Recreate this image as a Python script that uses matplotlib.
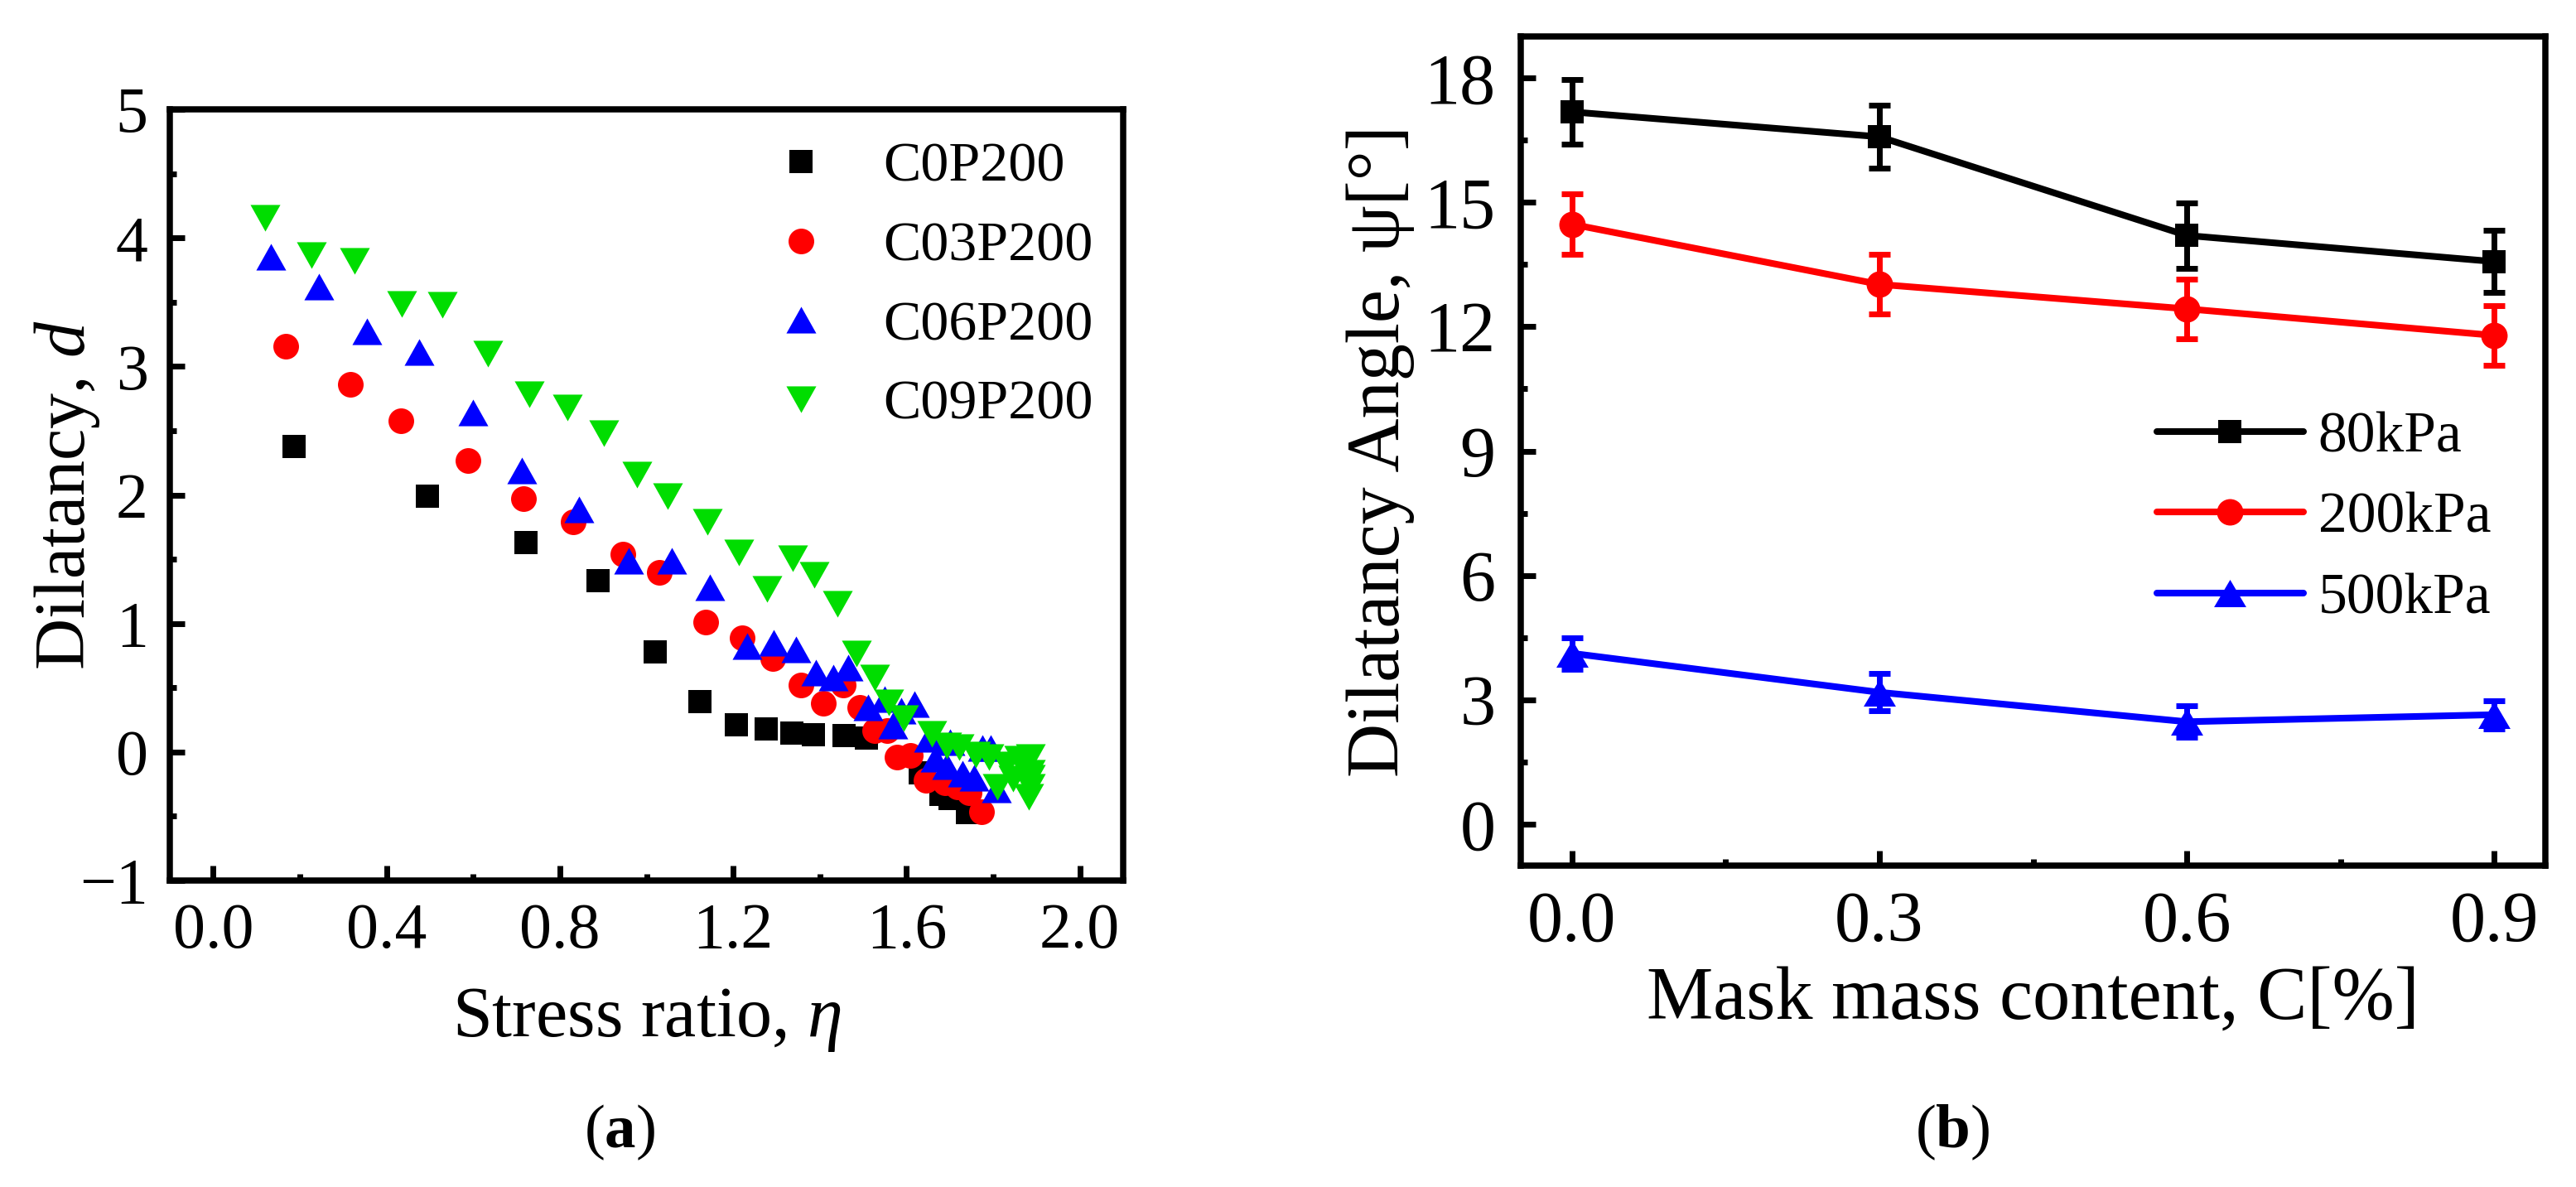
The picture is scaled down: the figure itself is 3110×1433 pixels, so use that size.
import matplotlib
matplotlib.use('Agg')
import matplotlib.pyplot as plt
from matplotlib.ticker import MultipleLocator, FormatStrFormatter

plt.rcParams['font.family'] = ['Liberation Serif', 'DejaVu Serif']
plt.rcParams['mathtext.fontset'] = 'custom'
plt.rcParams['mathtext.rm'] = 'Liberation Serif'
plt.rcParams['mathtext.it'] = 'Liberation Serif:italic'
plt.rcParams['mathtext.bf'] = 'Liberation Serif:bold'
plt.rcParams['lines.solid_capstyle'] = 'round'

# (a) dilatancy vs stress ratio
c0_eta = [0.187, 0.494, 0.722, 0.889, 1.021, 1.123, 1.208, 1.277, 1.335, 1.385,
          1.456, 1.507, 1.632, 1.680, 1.700, 1.740]
c0_d = [2.38, 1.99, 1.63, 1.33, 0.78, 0.39, 0.21, 0.18, 0.15, 0.135,
        0.125, 0.11, -0.16, -0.33, -0.36, -0.47]

c03_eta = [0.168, 0.316, 0.433, 0.588, 0.717, 0.831, 0.945, 1.030, 1.136, 1.221,
           1.292, 1.356, 1.409, 1.453, 1.493, 1.527, 1.556, 1.579, 1.609, 1.646,
           1.689, 1.718, 1.744, 1.773]
c03_d = [3.16, 2.86, 2.58, 2.27, 1.97, 1.79, 1.54, 1.40, 1.01, 0.89,
         0.725, 0.52, 0.376, 0.52, 0.345, 0.167, 0.167, -0.04, -0.03, -0.22,
         -0.24, -0.27, -0.315, -0.465]

c06_eta = [0.134, 0.245, 0.354, 0.475, 0.600, 0.712, 0.845, 0.959, 1.058, 1.147,
           1.232, 1.294, 1.345, 1.391, 1.431, 1.466, 1.511, 1.549, 1.568, 1.587,
           1.618, 1.650, 1.667, 1.692, 1.700, 1.730, 1.755, 1.776, 1.795, 1.807]
c06_d = [3.85, 3.62, 3.27, 3.11, 2.64, 2.19, 1.89, 1.49, 1.487, 1.28,
         0.826, 0.847, 0.80, 0.617, 0.577, 0.659, 0.344, 0.41, 0.206, 0.322,
         0.37, 0.10, -0.05, -0.11, 0.075, -0.17, -0.20, 0.03, 0.03, -0.29]

c09_eta = [0.119, 0.226, 0.327, 0.436, 0.528, 0.634, 0.729, 0.818, 0.901, 0.978,
           1.049, 1.140, 1.213, 1.278, 1.338, 1.388, 1.441, 1.484, 1.526, 1.560,
           1.593, 1.659, 1.693, 1.722, 1.760, 1.790, 1.810, 1.830, 1.845, 1.860,
           1.870, 1.886, 1.886, 1.886, 1.886, 1.882]
c09_d = [4.157, 3.867, 3.82, 3.487, 3.48, 3.10, 2.78, 2.68, 2.48, 2.16,
         1.99, 1.79, 1.55, 1.27, 1.51, 1.375, 1.15, 0.763, 0.577, 0.384,
         0.264, 0.142, 0.052, 0.04, -0.02, -0.04, -0.27, -0.10, -0.21, -0.05,
         -0.12, -0.04, -0.16, -0.20, -0.27, -0.35]

# (b) dilatancy angle vs mask content
mask_c = [0.0, 0.3, 0.6, 0.9]
psi_80 = [17.18, 16.58, 14.20, 13.57]
err_80 = [0.78, 0.76, 0.79, 0.75]
psi_200 = [14.47, 13.02, 12.43, 11.79]
err_200 = [0.73, 0.72, 0.72, 0.72]
psi_500 = [4.12, 3.18, 2.47, 2.64]
err_500 = [0.38, 0.45, 0.38, 0.34]

tri_up = [(-1, -0.89), (1, -0.89), (0, 0.89), (-1, -0.89)]
tri_dn = [(-1, 0.89), (1, 0.89), (0, -0.89), (-1, 0.89)]
tri_up_b = [(-1, -0.85), (1, -0.85), (0, 0.85), (-1, -0.85)]

W, H = 3110, 1433
fig = plt.figure(figsize=(W / 100, H / 100), dpi=100)


def style_axes(ax, tick_fs, pad):
    for s in ax.spines.values():
        s.set_linewidth(5.4)
    ax.tick_params(which='both', direction='in', top=False, right=False,
                   width=5, labelsize=tick_fs, pad=pad)
    ax.tick_params(which='major', length=13)
    ax.tick_params(which='minor', length=5.5)


# ---- panel (a)
ax1 = fig.add_axes([205 / W, 1 - 1063 / H, 1151 / W, 931 / H])
ax1.plot(c0_eta, c0_d, ls='none', marker='s', ms=19.5, mew=0, color='black', label='C0P200')
ax1.plot(c03_eta, c03_d, ls='none', marker='o', ms=22.3, mew=0, color='#FF0000', label='C03P200')
ax1.plot(c06_eta, c06_d, ls='none', marker=tri_up, ms=26, mew=0, color='#0000FF', label='C06P200')
ax1.plot(c09_eta, c09_d, ls='none', marker=tri_dn, ms=26, mew=0, color='#00DD00', label='C09P200')
ax1.set_xlim(-0.1, 2.1)
ax1.set_ylim(-1, 5)
ax1.xaxis.set_major_locator(MultipleLocator(0.4))
ax1.xaxis.set_minor_locator(MultipleLocator(0.2))
ax1.yaxis.set_major_locator(MultipleLocator(1))
ax1.yaxis.set_minor_locator(MultipleLocator(0.5))
ax1.xaxis.set_major_formatter(FormatStrFormatter('%.1f'))
style_axes(ax1, 56, 19)
ax1.set_xlabel(r'Stress ratio, $\eta$', fontsize=62)
ax1.set_ylabel(r'Dilatancy, $d$', fontsize=62)
ax1.xaxis.set_label_coords(0.5, -0.1375)
ax1.yaxis.set_label_coords(-0.0712, 0.5)
ax1.legend(loc='upper left', bbox_to_anchor=(0.603, 0.958), frameon=False,
           fontsize=49, handlelength=2.0, handletextpad=0.45, labelspacing=0.5,
           borderpad=0, borderaxespad=0, numpoints=1)

# ---- panel (b)
ax2 = fig.add_axes([1836 / W, 1 - 1045 / H, 1237 / W, 1001 / H])
series = [(psi_80, err_80, 'black', 's', 20, '80kPa'),
          (psi_200, err_200, '#FF0000', 'o', 23, '200kPa'),
          (psi_500, err_500, '#0000FF', tri_up_b, 28, '500kPa')]
for vals, errs, col, mk, ms, lab in series:
    ax2.errorbar(mask_c, vals, yerr=errs, fmt='none', ecolor=col,
                 elinewidth=5, capsize=9.7, capthick=5)
    ax2.plot(mask_c, vals, color=col, lw=5.8, marker=mk, ms=ms, mew=0, label=lab)
ax2.set_xlim(-0.05, 0.95)
ax2.set_ylim(-1, 19)
ax2.xaxis.set_major_locator(MultipleLocator(0.3))
ax2.xaxis.set_minor_locator(MultipleLocator(0.15))
ax2.yaxis.set_major_locator(MultipleLocator(3))
ax2.yaxis.set_minor_locator(MultipleLocator(1.5))
ax2.xaxis.set_major_formatter(FormatStrFormatter('%.1f'))
style_axes(ax2, 62, 22)
ax2.set_xlabel('Mask mass content, C[%]', fontsize=65)
ax2.set_ylabel('Dilatancy Angle, ψ[°]', fontsize=65)
ax2.xaxis.set_label_coords(0.5, -0.121)
ax2.yaxis.set_label_coords(-0.1035, 0.5)
ax2.legend(loc='upper left', bbox_to_anchor=(0.621, 0.548), frameon=False,
           fontsize=50, handlelength=2.54, handletextpad=0.26, labelspacing=0.49,
           borderpad=0, borderaxespad=0, numpoints=1)

fig.text(748 / W, 1 - 1367 / H, r'($\mathbf{a}$)', fontsize=54, ha='center', va='center')
fig.text(2357 / W, 1 - 1367 / H, r'($\mathbf{b}$)', fontsize=54, ha='center', va='center')

fig.savefig('out.png', dpi=100, facecolor='white')
